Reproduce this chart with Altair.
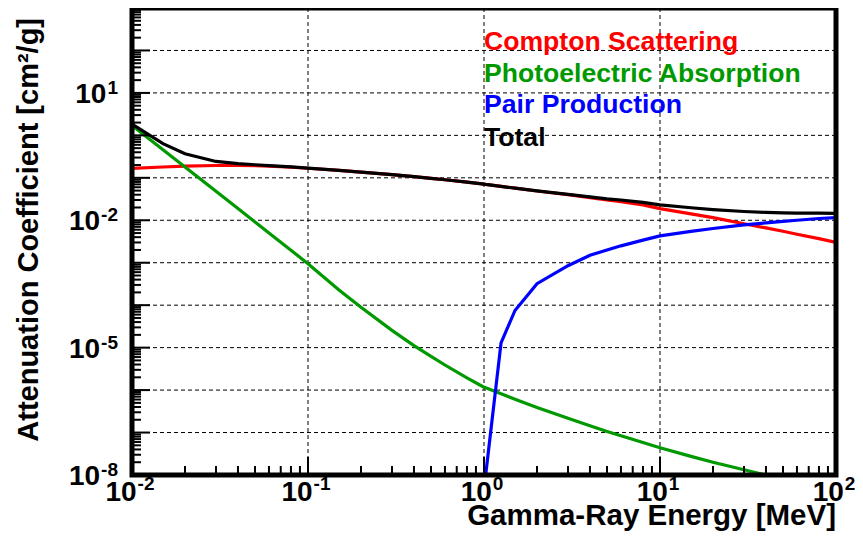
import altair as alt
import pandas as pd

# ---------------- data ----------------
energy = [0.01, 0.015, 0.02, 0.03, 0.04, 0.05, 0.06, 0.08, 0.1, 0.15, 0.2, 0.3, 0.4,
          0.5, 0.6, 0.8, 1.0, 1.022, 1.25, 1.5, 2, 3, 4, 5, 6, 8, 10, 15, 20, 30, 40,
          50, 60, 80, 100]
compton = [0.166, 0.180, 0.189, 0.195, 0.196, 0.194, 0.189, 0.179, 0.168, 0.149, 0.136,
           0.119, 0.107, 0.097, 0.090, 0.079, 0.071, 0.070, 0.063, 0.057, 0.049, 0.040,
           0.034, 0.030, 0.0275, 0.023, 0.0188, 0.0142, 0.0115, 0.0083, 0.0066, 0.0055,
           0.0047, 0.0037, 0.0030]
photo = [1.70, 0.458, 0.180, 0.048, 0.0189, 0.0091, 0.0050, 0.00197, 9.5e-4, 2.29e-4,
         8.9e-5, 2.55e-5, 1.12e-5, 6.2e-6, 3.9e-6, 1.94e-6, 1.17e-6, 1.13e-6, 8.2e-7,
         6.1e-7, 3.9e-7, 2.16e-7, 1.44e-7, 1.06e-7, 8.4e-8, 5.8e-8, 4.4e-8, 2.75e-8,
         2.0e-8, 1.33e-8, 1.0e-8, 8.2e-9, 7.0e-9, 5.5e-9, 4.6e-9]
total = [1.85, 0.64, 0.37, 0.243, 0.215, 0.203, 0.194, 0.181, 0.169, 0.149, 0.136, 0.119,
         0.107, 0.097, 0.090, 0.079, 0.071, 0.070, 0.063, 0.057, 0.0493, 0.0408, 0.0355,
         0.032, 0.030, 0.0264, 0.0231, 0.0197, 0.0179, 0.0161, 0.0153, 0.0149, 0.0147,
         0.0147, 0.0146]
pair_energy = [1.022, 1.25, 1.5, 2, 3, 4, 5, 6, 8, 10, 15, 20, 30, 40, 50, 60, 80, 100]
pair = [1e-8, 1.3e-5, 7.5e-5, 3.2e-4, 8.5e-4, 1.5e-3, 2.0e-3, 2.5e-3, 3.4e-3, 4.3e-3,
        5.5e-3, 6.4e-3, 7.8e-3, 8.7e-3, 9.4e-3, 1.0e-2, 1.1e-2, 1.16e-2]

series_names = ["Compton Scattering", "Photoelectric Absorption", "Pair Production", "Total"]
series_colors = ["#ff0000", "#009900", "#0000ff", "#000000"]

x_decades = [0.01, 0.1, 1, 10, 100]
x_exponents = ["-2", "-1", "0", "1", "2"]
y_label_values = [10, 1e-2, 1e-5, 1e-8]
y_exponents = ["1", "-2", "-5", "-8"]
y_decades = [1e-8, 1e-7, 1e-6, 1e-5, 1e-4, 1e-3, 1e-2, 1e-1, 1, 10, 100, 1000]
x_minor = [k * d for d in [0.01, 0.1, 1, 10] for k in range(2, 10)]
y_minor = [k * d for d in y_decades[:-1] for k in range(2, 10)]

# frame outline follows the axis domains
frame_x = [0.01, 0.01, 100, 100, 0.01]
frame_y = [1e-8, 1e3, 1e3, 1e-8, 1e-8]

x_title = "Gamma-Ray Energy [MeV]"
y_title = "Attenuation Coefficient [cm²/g]"

# ---------------- layout / style ----------------
W, H = 704, 467
FONT = "Liberation Sans"
BASE, EXP = 28, 19
xs = alt.Scale(type="log", domain=[0.01, 100], nice=False)
ys = alt.Scale(type="log", domain=[1e-8, 1e3], nice=False)


def wtxt(s, size):
    widths = {"-": 0.333}
    return sum(widths.get(c, 0.556) for c in s) * size


layers = []

# grid lines (dashed)
layers.append(alt.Chart(pd.DataFrame({"v": x_decades[1:-1]})).mark_rule(
    color="black", strokeWidth=1, strokeDash=[4, 3]).encode(
    x=alt.X("v:Q", scale=xs, axis=None)))
layers.append(alt.Chart(pd.DataFrame({"v": y_decades[1:-1]})).mark_rule(
    color="black", strokeWidth=1, strokeDash=[4, 3]).encode(
    y=alt.Y("v:Q", scale=ys, axis=None)))

# curves
curve_data = [
    (energy, compton, series_colors[0]),
    (energy, photo, series_colors[1]),
    (pair_energy, pair, series_colors[2]),
    (energy, total, series_colors[3]),
]
for ex, vals, col in curve_data:
    df = pd.DataFrame({"E": ex, "mu": vals})
    layers.append(alt.Chart(df).mark_line(color=col, strokeWidth=3.2, clip=True).encode(
        x=alt.X("E:Q", scale=xs, axis=None),
        y=alt.Y("mu:Q", scale=ys, axis=None)))

# inward ticks (inside the frame only)
layers.append(alt.Chart(pd.DataFrame({"v": x_minor})).mark_rule(color="#000000", strokeWidth=2).encode(
    x=alt.X("v:Q", scale=xs, axis=None), y=alt.value(H), y2=alt.value(H - 9)))
layers.append(alt.Chart(pd.DataFrame({"v": x_decades})).mark_rule(color="#000000", strokeWidth=2).encode(
    x=alt.X("v:Q", scale=xs, axis=None), y=alt.value(H), y2=alt.value(H - 18)))
layers.append(alt.Chart(pd.DataFrame({"v": y_minor})).mark_rule(color="#000000", strokeWidth=2).encode(
    y=alt.Y("v:Q", scale=ys, axis=None), x=alt.value(0), x2=alt.value(9)))
layers.append(alt.Chart(pd.DataFrame({"v": y_decades})).mark_rule(color="#000000", strokeWidth=2).encode(
    y=alt.Y("v:Q", scale=ys, axis=None), x=alt.value(0), x2=alt.value(18)))

# frame: closed outline drawn as a line through the domain corners
layers.append(alt.Chart(pd.DataFrame({"fx": frame_x, "fy": frame_y, "o": list(range(5))})).mark_line(
    color="#000000", strokeWidth=5, strokeCap="square", strokeJoin="miter").encode(
    x=alt.X("fx:Q", scale=xs, axis=None),
    y=alt.Y("fy:Q", scale=ys, axis=None),
    order="o:Q"))

# x tick labels: 10^n
for v, e in zip(x_decades, x_exponents):
    wb = wtxt("10", BASE)
    we = wtxt(e, EXP)
    tot = wb + 1 + we
    df = pd.DataFrame({"v": [v], "b": ["10"], "e": [e]})
    layers.append(alt.Chart(df).mark_text(
        align="left", baseline="alphabetic", font=FONT, fontWeight="bold", fontSize=BASE,
        dx=-tot / 2 - 2, dy=26, color="black").encode(
        x=alt.X("v:Q", scale=xs, axis=None), y=alt.value(H), text="b:N"))
    layers.append(alt.Chart(df).mark_text(
        align="left", baseline="alphabetic", font=FONT, fontWeight="bold", fontSize=EXP,
        dx=-tot / 2 - 2 + wb + 1, dy=15, color="black").encode(
        x=alt.X("v:Q", scale=xs, axis=None), y=alt.value(H), text="e:N"))

# y tick labels: 10^n
for v, e in zip(y_label_values, y_exponents):
    we = wtxt(e, EXP)
    df = pd.DataFrame({"v": [v], "b": ["10"], "e": [e]})
    layers.append(alt.Chart(df).mark_text(
        align="right", baseline="alphabetic", font=FONT, fontWeight="bold", fontSize=BASE,
        dx=-14 - we - 1, dy=10, color="black").encode(
        y=alt.Y("v:Q", scale=ys, axis=None), x=alt.value(0), text="b:N"))
    layers.append(alt.Chart(df).mark_text(
        align="right", baseline="alphabetic", font=FONT, fontWeight="bold", fontSize=EXP,
        dx=-14, dy=1, color="black").encode(
        y=alt.Y("v:Q", scale=ys, axis=None), x=alt.value(0), text="e:N"))

# axis titles
layers.append(alt.Chart(pd.DataFrame({"t": [x_title]})).mark_text(
    align="right", baseline="alphabetic", font=FONT, fontWeight="bold", fontSize=29.5,
    color="black").encode(x=alt.value(W), y=alt.value(517), text="t:N"))
layers.append(alt.Chart(pd.DataFrame({"t": [y_title]})).mark_text(
    align="right", baseline="alphabetic", font=FONT, fontWeight="bold", fontSize=29,
    angle=270, color="black").encode(x=alt.value(-94), y=alt.value(10), text="t:N"))

# legend text
legend_y = [42, 74, 105, 138]
for name, col, ly in zip(series_names, series_colors, legend_y):
    layers.append(alt.Chart(pd.DataFrame({"t": [name]})).mark_text(
        align="left", baseline="alphabetic", font=FONT, fontWeight="bold", fontSize=26.6,
        color=col).encode(x=alt.value(352), y=alt.value(ly), text="t:N"))

chart = alt.layer(*layers).properties(
    width=W, height=H,
    padding={"left": 124, "top": 0, "right": 19, "bottom": 57},
    autosize=alt.AutoSizeParams(type="none"),
).configure(background="white").configure_view(stroke="#000000", strokeWidth=3)

chart.save("out.html", embed_options={"renderer": "svg", "actions": False})
